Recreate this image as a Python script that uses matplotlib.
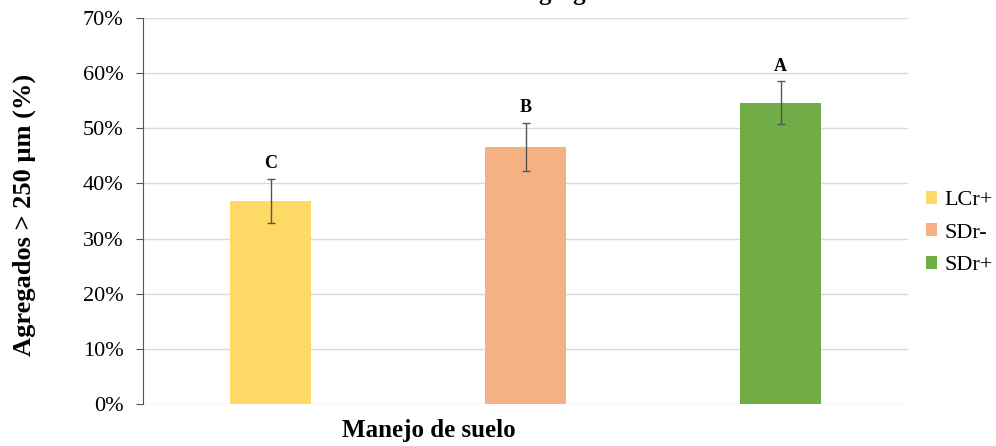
import matplotlib.pyplot as plt
from matplotlib.ticker import PercentFormatter

# valores
tratamientos = ['LCr+', 'SDr-', 'SDr+']
agregados = [36.8, 46.6, 54.6]
error = [4.0, 4.4, 3.9]
letras = ['C', 'B', 'A']
colores = ['#FFD966', '#F4B183', '#70AD47']

plt.rcParams['font.family'] = ['Liberation Serif', 'DejaVu Serif']

fig = plt.figure(figsize=(9.96, 4.46), dpi=100)
ax = fig.add_axes([143/996, 1 - 404/446, 765/996, 386/446])

x = range(len(tratamientos))
barras = ax.bar(x, agregados, width=0.32, color=colores, label=tratamientos,
                yerr=error, error_kw=dict(ecolor='#555555', elinewidth=1, capsize=3, capthick=1),
                zorder=3)

for i in x:
    ax.text(i, agregados[i] + error[i] + 1.2, letras[i], ha='center', va='bottom',
            fontsize=13, fontweight='bold')

ax.set_xlim(-0.5, 2.5)
ax.set_ylim(0, 70)
ax.set_yticks(range(0, 71, 10))
ax.yaxis.set_major_formatter(PercentFormatter(decimals=0))
ax.set_xticks([])
ax.tick_params(axis='y', labelsize=16, length=5, color='#555555', pad=9)
ax.grid(axis='y', color='#D9D9D9', linewidth=1, zorder=0)

for s in ['top', 'right', 'bottom']:
    ax.spines[s].set_visible(False)
ax.spines['left'].set_color('#555555')

ax.set_ylabel('Agregados > 250 µm (%)', fontsize=19, fontweight='bold')
ax.yaxis.set_label_coords(-0.14, 0.49)
ax.set_xlabel('Manejo de suelo', fontsize=18, fontweight='bold')
ax.xaxis.set_label_coords(0.373, -0.04)

# titulo cortado en la parte superior
fig.text(0.503, 1.0, 'Estabilidad de agregados', ha='center', va='baseline',
         fontsize=18, fontweight='bold')

ax.legend(loc='center left', bbox_to_anchor=(1.024, 0.443), frameon=False,
          borderaxespad=0, borderpad=0,
          fontsize=16, handlelength=0.5, handleheight=0.5, handletextpad=0.3,
          labelspacing=0.6)

plt.savefig('out.png', dpi=100)
